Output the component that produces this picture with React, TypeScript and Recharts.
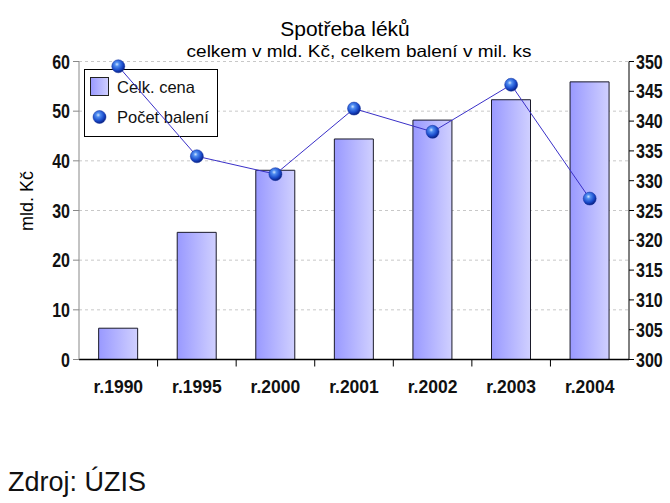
import { Bar, ComposedChart, CartesianGrid, Line, XAxis, YAxis } from 'recharts'

const years = ['r.1990', 'r.1995', 'r.2000', 'r.2001', 'r.2002', 'r.2003', 'r.2004']
const celkCena = [6.3, 25.6, 38.1, 44.4, 48.2, 52.3, 55.9]
const pocetBaleni = [349.2, 334.1, 331.1, 342.1, 338.2, 346.1, 327.0]
const leftTicks = [0, 10, 20, 30, 40, 50, 60]
const rightTicks = [300, 305, 310, 315, 320, 325, 330, 335, 340, 345, 350]

const data = years.map((name, i) => ({ name, cena: celkCena[i], baleni: pocetBaleni[i] }))

const sans = '"Liberation Sans", Arial, sans-serif'

function SphereDot(props: any) {
  const { cx, cy, index } = props
  if (cx == null || cy == null) return null
  return <circle key={index} cx={cx} cy={cy} r={6.5} fill="url(#sphere)" stroke="#1030a0" strokeWidth={0.5} />
}

function XTick(props: any) {
  const { x, y, payload, index } = props
  const half = 39.3
  return (
    <g>
      {index < years.length - 1 && (
        <line x1={x + half} x2={x + half} y1={y - 8} y2={y - 1} stroke="#000" strokeWidth={1} />
      )}
      <text x={x} y={y + 25} textAnchor="middle" fontFamily={sans} fontWeight="bold" fontSize={17.5} fill="#111">
        {payload.value}
      </text>
    </g>
  )
}

// narrow bold tick labels (Arial Narrow look)
function YTick(props: any) {
  const { x, y, payload, textAnchor } = props
  return (
    <g transform={`translate(${x},${y + 7}) scale(0.8,1)`}>
      <text x={0} y={0} textAnchor={textAnchor} fontFamily={sans} fontWeight="bold" fontSize={20} fill="#111">
        {payload.value}
      </text>
    </g>
  )
}

function ChartLegend() {
  return (
    <g>
      <rect x={84.5} y={69.5} width={133} height={67} fill="#fff" stroke="#000" strokeWidth={1} />
      <rect x={90.5} y={77.5} width={18} height={18} fill="url(#barFill)" stroke="#222" strokeWidth={1} />
      <text x={117} y={93} fontFamily={sans} fontSize={16.5} fill="#111">Celk. cena</text>
      <circle cx={99.5} cy={117} r={6.5} fill="url(#sphere)" stroke="#1030a0" strokeWidth={0.5} />
      <text x={117} y={123} fontFamily={sans} fontSize={16.5} fill="#111">Počet balení</text>
    </g>
  )
}

export default function App() {
  return (
    <div style={{ position: 'absolute', left: 0, top: 0, width: 670, height: 503, background: '#fff' }}>
      <div style={{ position: 'absolute', left: 0, width: 690, top: 17, textAlign: 'center', fontFamily: sans, fontSize: 21, color: '#000' }}>
        Spotřeba léků
      </div>
      <div
        style={{
          position: 'absolute',
          left: 0,
          width: 718,
          top: 42,
          textAlign: 'center',
          fontFamily: sans,
          fontSize: 16.5,
          lineHeight: '19px',
          color: '#000',
          transform: 'scaleX(1.15)',
          transformOrigin: '359px 0',
        }}
      >
        celkem v mld. Kč, celkem balení v mil. ks
      </div>
      <div
        style={{
          position: 'absolute',
          left: 27,
          top: 201,
          transform: 'translate(-50%, -50%) rotate(-90deg)',
          fontFamily: sans,
          fontSize: 18,
          whiteSpace: 'nowrap',
        }}
      >
        mld. Kč
      </div>
      <ComposedChart
        width={670}
        height={400}
        data={data}
        margin={{ top: 61.5, right: 0, bottom: 1.5, left: 0 }}
        barCategoryGap="25%"
      >
        <defs>
          <linearGradient id="barFill" x1="0" y1="0" x2="1" y2="0">
            <stop offset="0%" stopColor="#9999ff" />
            <stop offset="100%" stopColor="#d0d0ff" />
          </linearGradient>
          <radialGradient id="sphere" cx="40%" cy="35%" r="65%">
            <stop offset="0%" stopColor="#cfe4ff" />
            <stop offset="25%" stopColor="#4f8cf0" />
            <stop offset="70%" stopColor="#1848c8" />
            <stop offset="100%" stopColor="#0a2080" />
          </radialGradient>
        </defs>
        <CartesianGrid yAxisId="left" vertical={false} stroke="#c8c8c8" strokeDasharray="3 3" />
        <XAxis
          dataKey="name"
          height={39}
          axisLine={{ stroke: '#000', strokeWidth: 1.5 }}
          tickLine={false}
          tick={<XTick />}
          interval={0}
        />
        <YAxis
          yAxisId="left"
          orientation="left"
          width={79}
          domain={[0, 60]}
          ticks={leftTicks}
          axisLine={{ stroke: '#888' }}
          tickLine={{ stroke: '#888' }}
          tickSize={6}
          tickMargin={3}
          tick={<YTick />}
        />
        <YAxis
          yAxisId="right"
          orientation="right"
          width={41}
          domain={[300, 350]}
          ticks={rightTicks}
          axisLine={{ stroke: '#000' }}
          tickLine={{ stroke: '#000' }}
          tickSize={5}
          tickMargin={2}
          tick={<YTick />}
        />
        <Bar
          yAxisId="left"
          dataKey="cena"
          name="Celk. cena"
          fill="url(#barFill)"
          stroke="#1a1a2a"
          strokeWidth={1}
          isAnimationActive={false}
        />
        <ChartLegend />
        <Line
          yAxisId="right"
          dataKey="baleni"
          name="Počet balení"
          stroke="#3a30c8"
          strokeWidth={1}
          dot={<SphereDot />}
          activeDot={false}
          isAnimationActive={false}
        />
      </ComposedChart>
      <div style={{ position: 'absolute', left: 8, top: 467, fontFamily: sans, fontSize: 27, color: '#111' }}>Zdroj: ÚZIS</div>
    </div>
  )
}
